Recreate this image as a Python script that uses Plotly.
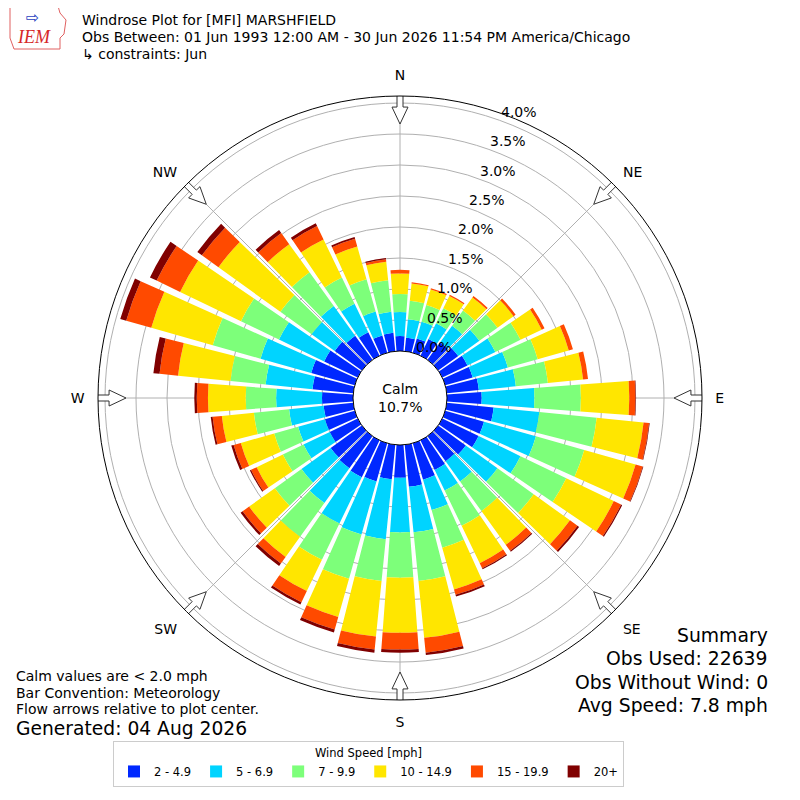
"""
Windrose plot for MFI Marshfield (June), rebuilt with plotly
"""
import math

import plotly.graph_objects as go

# data (percent of obs per 10 deg sector)
directions = list(range(0, 360, 10))
speed_bins = ["2 - 4.9", "5 - 6.9", "7 - 9.9", "10 - 14.9", "15 - 19.9", "20+"]
bin_colors = ["#0028ff", "#00d4ff", "#7dff7a", "#ffe600", "#ff4a00", "#800000"]

spd_2_5 = [0.24, 0.22, 0.24, 0.30, 0.35, 0.40, 0.45, 0.46, 0.52, 0.56, 0.76, 0.65,
           0.65, 0.55, 0.50, 0.53, 0.61, 0.68, 0.53, 0.56, 0.64, 0.66, 0.64, 0.62,
           0.50, 0.50, 0.48, 0.50, 0.66, 0.73, 0.60, 0.54, 0.48, 0.42, 0.29, 0.30]
spd_5_7 = [0.39, 0.30, 0.28, 0.28, 0.33, 0.42, 0.50, 0.59, 0.60, 0.85, 0.74, 0.87,
           0.75, 0.63, 0.40, 0.37, 0.51, 0.74, 0.88, 0.97, 0.89, 0.83, 0.69, 0.58,
           0.47, 0.45, 0.56, 0.74, 0.76, 0.85, 0.81, 0.46, 0.59, 0.51, 0.40, 0.34]
spd_7_10 = [0.29, 0.30, 0.28, 0.27, 0.30, 0.36, 0.45, 0.50, 0.52, 0.75, 0.93, 0.81,
            0.82, 0.72, 0.59, 0.63, 0.63, 0.79, 0.73, 0.68, 0.74, 0.65, 0.67, 0.53,
            0.37, 0.40, 0.57, 0.49, 0.57, 0.80, 0.68, 0.62, 0.67, 0.47, 0.54, 0.51]
spd_10_15 = [0.33, 0.28, 0.26, 0.22, 0.26, 0.32, 0.38, 0.52, 0.57, 0.78, 0.76, 0.86,
             0.85, 0.72, 0.67, 0.67, 0.70, 0.92, 0.89, 0.90, 0.64, 0.56, 0.40, 0.51,
             0.47, 0.56, 0.52, 0.61, 0.85, 1.03, 1.09, 1.23, 0.56, 0.68, 0.55, 0.30]
spd_15_20 = [0.06, 0.02, 0.02, 0.02, 0.03, 0.04, 0.05, 0.07, 0.08, 0.10, 0.09, 0.12,
             0.13, 0.15, 0.12, 0.09, 0.09, 0.24, 0.27, 0.21, 0.21, 0.20, 0.13, 0.13,
             0.10, 0.12, 0.15, 0.18, 0.30, 0.42, 0.42, 0.33, 0.22, 0.24, 0.13, 0.04]
spd_20p = [0.00, 0.00, 0.00, 0.00, 0.00, 0.00, 0.00, 0.00, 0.00, 0.01, 0.01, 0.01,
           0.02, 0.03, 0.02, 0.02, 0.03, 0.04, 0.05, 0.05, 0.05, 0.04, 0.05, 0.04,
           0.02, 0.04, 0.03, 0.04, 0.10, 0.10, 0.12, 0.09, 0.06, 0.05, 0.03, 0.02]
bin_values = [spd_2_5, spd_5_7, spd_7_10, spd_10_15, spd_15_20, spd_20p]

compass_angles = [0, 45, 90, 135, 180, 225, 270, 315]
compass_labels = ["N", "NE", "E", "SE", "S", "SW", "W", "NW"]
radial_ticks = [0.0, 0.5, 1.0, 1.5, 2.0, 2.5, 3.0, 3.5, 4.0]
calm_pct = 10.7

# geometry in page pixels; the page body has an 8px margin
W, H = 800, 800
OFF = 8
CX, CY = 400, 398
R_OUT = 302
R_HOLE = 47
PX_PER_PCT = 62
R_MAX = (R_OUT - R_HOLE) / PX_PER_PCT
FONT = "DejaVu Sans"


def px_x(x):
    return (x - OFF) / W


def px_y(y):
    return 1 - (y - OFF) / H


def to_r(rpx):
    return (rpx - R_HOLE) / PX_PER_PCT


def arrow(angle):
    """white block arrow pointing to the center, sitting on the outer ring"""
    pts = [(-3, 306), (3, 306), (3, 291), (8, 291), (0, 274), (-8, 291), (-3, 291), (-3, 306)]
    rr, tt = [], []
    for off, rpx in pts:
        rr.append(to_r(rpx))
        tt.append(angle + math.degrees(math.atan2(off, rpx)))
    return rr, tt


fig = go.Figure()

for name, vals, col in zip(speed_bins, bin_values, bin_colors):
    fig.add_trace(go.Barpolar(r=vals, theta=directions, width=8.5, name=name,
                              marker=dict(color=col, line=dict(width=0))))

for a in compass_angles:
    rr, tt = arrow(a)
    fig.add_trace(go.Scatterpolar(r=rr, theta=tt, mode="lines", fill="toself",
                                  fillcolor="white", line=dict(color="#333333", width=1),
                                  showlegend=False, hoverinfo="skip", cliponaxis=False))

fig.update_layout(
    width=W, height=H,
    margin=dict(l=0, r=0, t=0, b=0),
    paper_bgcolor="white",
    font=dict(family=FONT, size=13, color="black"),
    polar=dict(
        domain=dict(x=[px_x(CX - R_OUT), px_x(CX + R_OUT)],
                    y=[px_y(CY + R_OUT), px_y(CY - R_OUT)]),
        hole=R_HOLE / R_OUT,
        bgcolor="white",
        barmode="stack",
        radialaxis=dict(range=[0, R_MAX], tickvals=radial_ticks,
                        angle=67.5, showticklabels=False,
                        showline=False, ticks="",
                        gridcolor="#b0b0b0", gridwidth=1),
        angularaxis=dict(rotation=90, direction="clockwise",
                         tickvals=compass_angles, ticktext=compass_labels,
                         showline=True, linecolor="black", linewidth=1,
                         gridcolor="#b0b0b0", gridwidth=1,
                         ticks="outside", ticklen=10, tickcolor="rgba(0,0,0,0)",
                         tickfont=dict(size=14)),
    ),
    legend=dict(orientation="h", x=px_x(113), y=px_y(741), xanchor="left", yanchor="top",
                bordercolor="#cccccc", borderwidth=1, font=dict(size=11.5),
                itemwidth=30,
                title=dict(text="Wind Speed [mph]", side="top center", font=dict(size=11.5))),
)

ann = []
# radial tick labels, laid out like the matplotlib ones (slightly off the 22.5 deg ray)
for v in radial_ticks:
    ann.append(dict(text="%.1f%%" % v, x=px_x(434 + 21.2 * v), y=px_y(347 - 58.8 * v),
                    xanchor="center", yanchor="middle", font=dict(size=14)))
# header
header = ["Windrose Plot for [MFI] MARSHFIELD",
          "Obs Between: 01 Jun 1993 12:00 AM - 30 Jun 2026 11:54 PM America/Chicago",
          "↳ constraints: Jun"]
for i, line in enumerate(header):
    ann.append(dict(text=line, x=px_x(80), y=px_y(20 + 17 * i), xanchor="left",
                    yanchor="middle", font=dict(size=14)))
# calm
ann.append(dict(text="Calm<br>%.1f%%" % calm_pct, x=px_x(CX), y=px_y(CY), xanchor="center",
                yanchor="middle", font=dict(size=14)))
# bottom left notes
notes = ["Calm values are < 2.0 mph", "Bar Convention: Meteorology",
         "Flow arrows relative to plot center."]
for i, line in enumerate(notes):
    ann.append(dict(text=line, x=px_x(14), y=px_y(676 + 16.5 * i), xanchor="left",
                    yanchor="middle", font=dict(size=14)))
ann.append(dict(text="Generated: 04 Aug 2026", x=px_x(14), y=px_y(728), xanchor="left",
                yanchor="middle", font=dict(size=18.7)))
# summary
summary = ["Summary", "Obs Used: 22639", "Obs Without Wind: 0", "Avg Speed: 7.8 mph"]
for i, line in enumerate(summary):
    ann.append(dict(text=line, x=px_x(770), y=px_y(635 + 23.5 * i), xanchor="right",
                    yanchor="middle", font=dict(size=18.8)))
# logo
ann.append(dict(text="<i>IEM</i>", x=px_x(34), y=px_y(37), xanchor="center", yanchor="middle",
                font=dict(family="Liberation Serif", size=18, color="#d62728")))
ann.append(dict(text="⇨", x=px_x(32), y=px_y(18), xanchor="center", yanchor="middle",
                font=dict(size=16, color="#1f3fbf")))
for ax in ann:
    ax.update(xref="paper", yref="paper", showarrow=False)
fig.update_layout(annotations=ann)

logo = [(10, 6), (58, 6), (60, 13), (66, 20), (64, 34), (60, 38), (60, 49), (14, 49), (10, 38)]
path = "M " + " L ".join("%f,%f" % (px_x(x), px_y(y)) for x, y in logo) + " Z"
fig.add_shape(type="path", path=path, xref="paper", yref="paper",
              line=dict(color="#e06060", width=1))

fig.write_html("out.html")
